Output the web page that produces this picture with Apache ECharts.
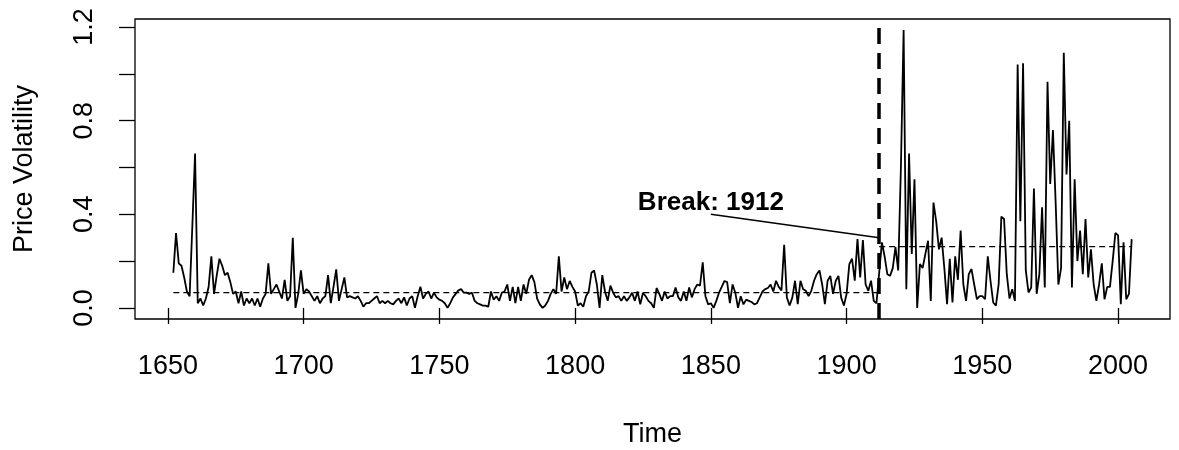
<!DOCTYPE html>
<html>
<head>
<meta charset="utf-8">
<script src="https://cdn.jsdelivr.net/npm/echarts@6/dist/echarts.min.js"></script>
<style>
html, body { margin: 0; padding: 0; background: #fff; }
#chart { width: 1179px; height: 450px; }
</style>
</head>
<body>
<div id="chart"></div>
<script>
// annual price volatility, one value per year starting at startYear
var startYear = 1652
var volatility = [
  0.15, 0.32, 0.19, 0.18, 0.13, 0.07, 0.05, 0.35,                      // 1652-1659
  0.66, 0.02, 0.04, 0.01, 0.04, 0.09, 0.22, 0.06, 0.14, 0.21,          // 1660s
  0.18, 0.14, 0.15, 0.11, 0.06, 0.07, 0.02, 0.07, 0.01, 0.04,          // 1670s
  0.02, 0.04, 0.01, 0.04, 0.005, 0.04, 0.06, 0.19, 0.06, 0.08,         // 1680s
  0.10, 0.07, 0.04, 0.12, 0.03, 0.05, 0.30, 0.00, 0.06, 0.16,          // 1690s
  0.06, 0.08, 0.07, 0.05, 0.03, 0.05, 0.02, 0.04, 0.05, 0.14,          // 1700s
  0.02, 0.09, 0.165, 0.03, 0.08, 0.13, 0.045, 0.05, 0.045, 0.04,       // 1710s
  0.05, 0.03, 0.005, 0.02, 0.02, 0.03, 0.04, 0.05, 0.02, 0.03,         // 1720s
  0.02, 0.03, 0.02, 0.015, 0.03, 0.04, 0.02, 0.045, 0.01, 0.04,        // 1730s
  0.05, 0.00, 0.05, 0.09, 0.04, 0.06, 0.07, 0.04, 0.065, 0.045,        // 1740s
  0.035, 0.03, 0.02, 0.00, 0.02, 0.045, 0.06, 0.075, 0.08, 0.065,      // 1750s
  0.065, 0.06, 0.065, 0.03, 0.02, 0.015, 0.01, 0.01, 0.005, 0.07,      // 1760s
  0.035, 0.05, 0.03, 0.065, 0.07, 0.10, 0.03, 0.09, 0.02, 0.09,        // 1770s
  0.03, 0.10, 0.06, 0.12, 0.14, 0.11, 0.04, 0.015, 0.00, 0.01,         // 1780s
  0.03, 0.06, 0.08, 0.06, 0.22, 0.07, 0.13, 0.08, 0.115, 0.09,         // 1790s
  0.07, 0.01, 0.02, 0.005, 0.05, 0.07, 0.15, 0.16, 0.10, 0.00,         // 1800s
  0.14, 0.07, 0.03, 0.095, 0.065, 0.045, 0.05, 0.03, 0.05, 0.03,       // 1810s
  0.045, 0.065, 0.03, 0.07, 0.015, 0.065, 0.05, 0.03, 0.02, 0.00,      // 1820s
  0.085, 0.06, 0.03, 0.07, 0.04, 0.05, 0.05, 0.087, 0.045, 0.03,       // 1830s
  0.07, 0.03, 0.087, 0.045, 0.08, 0.10, 0.095, 0.195, 0.05, 0.015,     // 1840s
  0.02, 0.00, 0.03, 0.065, 0.09, 0.115, 0.11, 0.02, 0.10, 0.065,       // 1850s
  0.00, 0.05, 0.015, 0.035, 0.03, 0.025, 0.015, 0.02, 0.045, 0.07,     // 1860s
  0.08, 0.085, 0.10, 0.07, 0.116, 0.09, 0.075, 0.27, 0.044, 0.01,      // 1870s
  0.044, 0.116, 0.016, 0.116, 0.08, 0.073, 0.05, 0.073, 0.116, 0.144, // 1880s
  0.16, 0.10, 0.016, 0.116, 0.137, 0.06, 0.116, 0.137, 0.044, 0.01,   // 1890s
  0.06, 0.187, 0.21, 0.116, 0.294, 0.13, 0.29, 0.10, 0.073, 0.116,    // 1900s
  0.03, 0.02, 0.15, 0.28, 0.22, 0.144, 0.137, 0.17, 0.26, 0.16,       // 1910s
  0.6, 1.187, 0.08, 0.66, 0.23, 0.55, 0.0, 0.187, 0.17, 0.23,         // 1920s
  0.287, 0.03, 0.45, 0.37, 0.25, 0.30, 0.17, 0.016, 0.21, 0.023,      // 1930s
  0.22, 0.12, 0.33, 0.10, 0.03, 0.144, 0.166, 0.10, 0.037, 0.05,      // 1940s
  0.05, 0.037, 0.22, 0.116, 0.023, 0.01, 0.10, 0.39, 0.38, 0.144,     // 1950s
  0.04, 0.08, 0.03, 1.04, 0.37, 1.045, 0.16, 0.066, 0.087, 0.51,      // 1960s
  0.06, 0.144, 0.43, 0.087, 0.966, 0.53, 0.76, 0.45, 0.10, 0.17,      // 1970s
  1.09, 0.57, 0.80, 0.087, 0.55, 0.20, 0.33, 0.144, 0.38, 0.13,       // 1980s
  0.25, 0.10, 0.03, 0.10, 0.19, 0.037, 0.09, 0.09, 0.20, 0.32,        // 1990s
  0.31, 0.016, 0.28, 0.037, 0.06, 0.294                                // 2000-2005
]

var breakYear = 1912
var meanBefore = 0.0656
var meanAfter = 0.2614
var breakText = 'Break: 1912'
var breakTextAt = [1850, 0.45]
var pointerLine = [[1850, 0.40], [1912, 0.30]]

var xTicks = [1650, 1700, 1750, 1800, 1850, 1900, 1950, 2000]
var yTicks = [0, 0.2, 0.4, 0.6, 0.8, 1.0, 1.2]
var yLabelTicks = [0, 0.4, 0.8, 1.2]

var seriesData = volatility.map(function (v, i) { return [startYear + i, v] })
var endYear = startYear + volatility.length - 1

// R style axis range: data range plus 4% on each side
var xPad = (endYear - startYear) * 0.04
var yMaxVal = Math.max.apply(null, volatility)
var yMinVal = Math.min.apply(null, volatility)
var yPad = (yMaxVal - yMinVal) * 0.04

var font = "'Liberation Sans', Arial, Helvetica, sans-serif"

var chart = echarts.init(document.getElementById('chart'))
chart.setOption({
  animation: false,
  grid: {
    left: 135, right: 9, top: 19, bottom: 131,
    containLabel: false,
    outerBoundsMode: 'none',
    show: true,
    borderColor: '#000',
    borderWidth: 1.3,
    backgroundColor: 'transparent'
  },
  xAxis: {
    type: 'value',
    min: startYear - xPad,
    max: endYear + xPad,
    name: 'Time',
    nameLocation: 'middle',
    nameGap: 102,
    nameTextStyle: { fontFamily: font, fontSize: 27, color: '#000' },
    axisLine: { show: false },
    splitLine: { show: false },
    axisTick: {
      show: true, inside: false, length: 16,
      customValues: xTicks,
      lineStyle: { color: '#000', width: 1.3 }
    },
    axisLabel: {
      show: true, margin: 34,
      customValues: xTicks,
      formatter: function (v) { return String(v) },
      fontFamily: font, fontSize: 27, color: '#000'
    }
  },
  yAxis: {
    type: 'value',
    min: yMinVal - yPad,
    max: yMaxVal + yPad,
    name: 'Price Volatility',
    nameLocation: 'middle',
    nameGap: 97,
    nameTextStyle: { fontFamily: font, fontSize: 27, color: '#000' },
    axisLine: { show: false },
    splitLine: { show: false },
    axisTick: {
      show: true, inside: false, length: 16,
      customValues: yTicks,
      lineStyle: { color: '#000', width: 1.3 }
    },
    axisLabel: {
      show: true, margin: 37, rotate: 90,
      customValues: yLabelTicks,
      formatter: function (v) { return v.toFixed(1) },
      fontFamily: font, fontSize: 27, color: '#000'
    }
  },
  series: [
    {
      name: 'volatility',
      type: 'line',
      data: seriesData,
      showSymbol: false,
      lineStyle: { color: '#000', width: 1.8 },
      markLine: {
        silent: true,
        symbol: ['none', 'none'],
        label: { show: false },
        lineStyle: { color: '#000', width: 3.5, type: [16, 9] },
        data: [{ xAxis: breakYear }]
      },
      z: 3
    },
    {
      name: 'mean before',
      type: 'line',
      data: [[startYear, meanBefore], [breakYear, meanBefore]],
      showSymbol: false,
      lineStyle: { color: '#000', width: 1.3, type: [6, 4] },
      z: 2
    },
    {
      name: 'mean after',
      type: 'line',
      data: [[breakYear, meanAfter], [endYear, meanAfter]],
      showSymbol: false,
      lineStyle: { color: '#000', width: 1.3, type: [6, 4] },
      z: 2
    },
    {
      name: 'pointer',
      type: 'line',
      data: pointerLine,
      showSymbol: false,
      lineStyle: { color: '#000', width: 1.6 },
      z: 2
    },
    {
      name: 'break label',
      type: 'scatter',
      data: [breakTextAt],
      symbolSize: 0,
      itemStyle: { opacity: 1, color: '#000' },
      label: {
        show: true,
        position: 'inside',
        formatter: breakText,
        opacity: 1,
        textBorderWidth: 0,
        fontFamily: font, fontSize: 26, fontWeight: 'bold', color: '#000'
      },
      z: 4
    }
  ]
})
</script>
</body>
</html>
